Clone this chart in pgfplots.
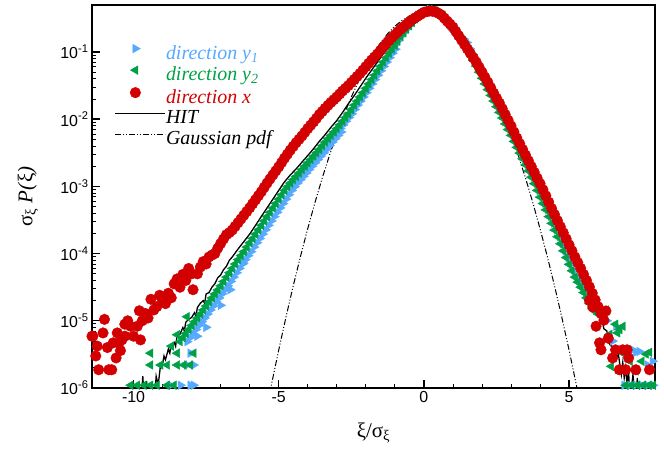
\documentclass[border=0pt]{standalone}
\usepackage{pgfplots}
\pgfplotsset{compat=1.18}
\usepackage{fontspec}
\setmainfont{Liberation Sans}
\newfontfamily\seriffont{Liberation Serif}
\definecolor{cblue}{RGB}{85,170,255}
\definecolor{cgreen}{RGB}{0,160,70}
\definecolor{cred}{RGB}{210,0,0}
\pgfplotsset{
  markleg/.style={legend image code/.code={\draw[##1] plot coordinates {(20bp,6bp)};}},
  lineleg/.style={legend image code/.code={\draw[##1] plot coordinates {(0bp,6bp) (50bp,6bp)};}},
}
\begin{document}
\begin{tikzpicture}
\begin{axis}[
  scale only axis, width=563bp, height=383bp,
  xmin=-11.43, xmax=7.96, ymin=1e-6, ymax=0.5, ymode=log,
  axis line style={line width=1.4bp},
  tick align=inside, tick pos=left,
  xtick={-10,-5,0,5}, xticklabels={-10,-5,0,5},
  minor x tick num=4,
  ytick={1e-6,1e-5,1e-4,1e-3,1e-2,1e-1},
  yticklabels={10\textsuperscript{-6},10\textsuperscript{-5},10\textsuperscript{-4},10\textsuperscript{-3},10\textsuperscript{-2},10\textsuperscript{-1}},
  major tick length=8bp, minor tick length=4.5bp,
  every major tick/.append style={black, line width=1.4bp},
  every minor tick/.append style={black, line width=0.8bp},
  tick label style={font=\fontsize{16}{19}\selectfont},
  xlabel={\seriffont ξ/σ\textsubscript{ξ}},
  ylabel={\seriffont σ\textsubscript{ξ} \textit{P(}ξ\textit{)}},
  every axis y label/.style={at={(axis description cs:-0.1137,0.5)}, rotate=90, anchor=center, font=\fontsize{21}{24}\selectfont},
  every axis x label/.style={at={(axis description cs:0.5,-0.13)}, anchor=base, font=\fontsize{21}{24}\selectfont},
  legend style={draw=none, fill=none, at={(axis description cs:0.04,0.898)}, anchor=north west,
    font=\fontsize{20}{22}\selectfont\seriffont\itshape, row sep=1.7bp, inner sep=0pt,
    nodes={inner sep=0pt, text height=14bp, text depth=5bp},
    /tikz/every even column/.append style={column sep=7bp}},
  legend cell align=left,
  clip=true,
]
% direction y1 (blue)
\addplot[only marks, mark=triangle*, mark size=5bp, color=cblue, mark options={rotate=-90, draw=cblue, fill=cblue}, markleg]
coordinates {
(-8.15,4.9e-6) (-7.95,6.46e-6) (-7.75,8.51e-6) (-7.55,1.10e-5) (-7.35,1.45e-5) (-7.15,1.91e-5) (-6.95,2.51e-5) (-6.75,3.31e-5) (-6.55,4.47e-5) (-6.35,6.03e-5) (-6.15,8.13e-5) (-5.95,1.07e-4) (-5.75,1.45e-4) (-5.55,1.95e-4) (-5.35,2.63e-4) (-5.15,3.55e-4) (-4.95,4.79e-4) (-4.75,6.46e-4) (-4.55,8.71e-4) (-4.35,1.12e-3) (-4.15,1.41e-3) (-3.95,1.78e-3) (-3.75,2.24e-3) (-3.55,2.82e-3) (-3.35,3.55e-3) (-3.15,4.57e-3) (-2.95,5.75e-3) (-2.88,7.24e-3) (-2.68,9.33e-3) (-2.48,1.20e-2) (-2.28,1.62e-2) (-2.08,2.14e-2) (-1.88,2.88e-2) (-1.68,3.89e-2) (-1.48,5.25e-2) (-1.28,7.08e-2) (-1.08,9.55e-2) (-1.0,0.126) (-0.8,0.170) (-0.6,0.219) (-0.4,0.275) (-0.2,0.355) (0.0,0.389) (0.2,0.427) (0.4,0.407) (0.6,0.355) (0.8,0.282) (1.0,0.224) (1.2,0.174) (1.48,0.138) (1.68,9.12e-2) (1.88,6.17e-2) (2.08,4.07e-2) (2.28,2.75e-2) (2.48,1.86e-2) (2.68,1.26e-2) (2.88,8.51e-3) (3.08,5.75e-3) (3.28,3.80e-3) (3.48,2.57e-3) (3.68,1.70e-3) (3.88,1.10e-3) (4.08,6.92e-4) (4.28,4.47e-4) (4.48,2.82e-4) (4.68,1.78e-4) (4.88,1.10e-4) (5.08,6.92e-5) (5.28,4.47e-5) (5.48,3.16e-5) (5.68,2.19e-5) (5.88,1.51e-5) (6.08,1.26e-5)
(-8.05,5.63e-6) (-7.85,7.41e-6) (-7.65,9.68e-6) (-7.45,1.26e-5) (-7.25,1.66e-5) (-7.05,2.19e-5) (-6.85,2.88e-5) (-6.65,3.85e-5) (-6.45,5.19e-5) (-6.25,7.00e-5) (-6.05,9.33e-5) (-5.85,1.25e-4) (-5.65,1.68e-4) (-5.45,2.26e-4) (-5.25,3.06e-4) (-5.05,4.12e-4) (-4.85,5.56e-4) (-4.65,7.50e-4) (-4.45,9.88e-4) (-4.25,1.26e-3) (-4.05,1.58e-3) (-3.85,2.00e-3) (-3.65,2.51e-3) (-3.45,3.16e-3) (-3.25,4.03e-3) (-3.05,5.13e-3) (-2.85,6.45e-3) (-2.78,8.22e-3) (-2.58,1.06e-2) (-2.38,1.39e-2) (-2.18,1.86e-2) (-1.98,2.48e-2) (-1.78,3.35e-2) (-1.58,4.52e-2) (-1.38,6.10e-2) (-1.18,8.22e-2) (-0.98,0.110) (-0.9,0.146) (-0.7,0.193) (-0.5,0.245) (-0.3,0.312) (-0.1,0.372) (0.1,0.408) (0.3,0.417) (0.5,0.380) (0.7,0.316) (0.9,0.251) (1.1,0.197) (1.38,0.155) (1.58,0.112) (1.78,7.50e-2) (1.98,5.01e-2) (2.18,3.35e-2) (2.38,2.26e-2) (2.58,1.53e-2) (2.78,1.04e-2) (2.98,7.00e-3) (3.18,4.67e-3) (3.38,3.13e-3) (3.58,2.09e-3) (3.78,1.37e-3) (3.98,8.72e-4) (4.18,5.56e-4) (4.38,3.55e-4) (4.58,2.24e-4) (4.78,1.40e-4) (4.98,8.72e-5) (5.18,5.56e-5) (5.38,3.76e-5) (5.58,2.63e-5) (5.78,1.82e-5) (5.98,1.38e-5)
(-7.81,5.9e-6) (-8.04,3.3e-6) (-8.16,2.2e-6) (-7.93,2.2e-6) (-8.73,1.1e-6) (-8.38,1.1e-6) (-8.04,1.1e-6) (-7.93,1.1e-6) (-7.5,8e-6) (-7.0,1.7e-5) (-6.67,2.9e-5) (-6.22,7.2e-5)
(6.3,1.0e-5) (6.62,8.3e-6) (7.19,3.7e-6) (7.3,3.4e-6) (7.42,3.5e-6) (7.7,2.2e-6) (7.88,2.5e-6) (6.9,1.1e-6) (7.1,1.1e-6) (7.3,1.1e-6) (7.5,1.1e-6) (7.7,1.1e-6) (7.9,1.1e-6) (6.5,5e-6)
};
\addlegendentry{\textcolor{cblue}{direction y\textsubscript{1}}}
% direction y2 (green)
\addplot[only marks, mark=triangle*, mark size=5bp, color=cgreen, mark options={rotate=90, draw=cgreen, fill=cgreen}, markleg]
coordinates {
(-8.4,4.9e-6) (-8.2,6.46e-6) (-8.0,8.51e-6) (-7.8,1.10e-5) (-7.6,1.45e-5) (-7.4,1.91e-5) (-7.2,2.51e-5) (-7.0,3.31e-5) (-6.8,4.47e-5) (-6.6,6.03e-5) (-6.4,8.13e-5) (-6.2,1.07e-4) (-6.0,1.45e-4) (-5.8,1.95e-4) (-5.6,2.63e-4) (-5.4,3.55e-4) (-5.2,4.79e-4) (-5.0,6.46e-4) (-4.8,8.71e-4) (-4.6,1.12e-3) (-4.4,1.41e-3) (-4.2,1.78e-3) (-4.0,2.24e-3) (-3.8,2.82e-3) (-3.6,3.55e-3) (-3.4,4.57e-3) (-3.2,5.75e-3) (-3.0,7.24e-3) (-2.8,9.33e-3) (-2.6,1.20e-2) (-2.4,1.62e-2) (-2.2,2.14e-2) (-2.0,2.88e-2) (-1.8,3.89e-2) (-1.6,5.25e-2) (-1.4,7.08e-2) (-1.2,9.55e-2) (-1.0,0.126) (-0.8,0.170) (-0.6,0.219) (-0.4,0.275) (-0.2,0.355) (0.0,0.389) (0.2,0.427) (0.4,0.407) (0.6,0.355) (0.8,0.282) (1.0,0.224) (1.2,0.174) (1.4,0.138) (1.6,9.12e-2) (1.8,6.17e-2) (2.0,4.07e-2) (2.2,2.75e-2) (2.4,1.86e-2) (2.6,1.26e-2) (2.8,8.51e-3) (3.0,5.75e-3) (3.2,3.80e-3) (3.4,2.57e-3) (3.6,1.70e-3) (3.8,1.10e-3) (4.0,6.92e-4) (4.2,4.47e-4) (4.4,2.82e-4) (4.6,1.78e-4) (4.8,1.10e-4) (5.0,6.92e-5) (5.2,4.47e-5) (5.4,3.16e-5) (5.6,2.19e-5) (5.8,1.51e-5) (6.0,1.26e-5)
(-8.3,5.63e-6) (-8.1,7.41e-6) (-7.9,9.68e-6) (-7.7,1.26e-5) (-7.5,1.66e-5) (-7.3,2.19e-5) (-7.1,2.88e-5) (-6.9,3.85e-5) (-6.7,5.19e-5) (-6.5,7.00e-5) (-6.3,9.33e-5) (-6.1,1.25e-4) (-5.9,1.68e-4) (-5.7,2.26e-4) (-5.5,3.06e-4) (-5.3,4.12e-4) (-5.1,5.56e-4) (-4.9,7.50e-4) (-4.7,9.88e-4) (-4.5,1.26e-3) (-4.3,1.58e-3) (-4.1,2.00e-3) (-3.9,2.51e-3) (-3.7,3.16e-3) (-3.5,4.03e-3) (-3.3,5.13e-3) (-3.1,6.45e-3) (-2.9,8.22e-3) (-2.7,1.06e-2) (-2.5,1.39e-2) (-2.3,1.86e-2) (-2.1,2.48e-2) (-1.9,3.35e-2) (-1.7,4.52e-2) (-1.5,6.10e-2) (-1.3,8.22e-2) (-1.1,0.110) (-0.9,0.146) (-0.7,0.193) (-0.5,0.245) (-0.3,0.312) (-0.1,0.372) (0.1,0.408) (0.3,0.417) (0.5,0.380) (0.7,0.316) (0.9,0.251) (1.1,0.197) (1.3,0.155) (1.5,0.112) (1.7,7.50e-2) (1.9,5.01e-2) (2.1,3.35e-2) (2.3,2.26e-2) (2.5,1.53e-2) (2.7,1.04e-2) (2.9,7.00e-3) (3.1,4.67e-3) (3.3,3.13e-3) (3.5,2.09e-3) (3.7,1.37e-3) (3.9,8.72e-4) (4.1,5.56e-4) (4.3,3.55e-4) (4.5,2.24e-4) (4.7,1.40e-4) (4.9,8.72e-5) (5.1,5.56e-5) (5.3,3.76e-5) (5.5,2.63e-5) (5.7,1.82e-5) (5.9,1.38e-5)
(-8.16,1.15e-5) (-8.5,6.2e-6) (-8.7,4.2e-6) (-9.42,3.3e-6) (-8.5,3.3e-6) (-7.93,3.3e-6) (-9.42,2.2e-6) (-9.07,2.2e-6) (-8.84,2.2e-6) (-8.5,2.2e-6) (-8.27,2.2e-6) (-8.04,2.2e-6) (-10.1,1.1e-6) (-9.87,1.1e-6) (-9.64,1.1e-6) (-9.42,1.1e-6) (-9.19,1.1e-6) (-8.84,1.1e-6) (-8.61,1.1e-6)
(6.2,1.12e-5) (6.28,1.45e-5) (6.4,6.3e-6) (6.45,2.1e-6) (6.6,8.9e-6) (6.67,6.6e-6) (6.74,7.4e-6) (6.85,8.3e-6) (6.9,3.2e-6) (7.1,2.5e-6) (7.3,1.8e-6) (7.5,2.5e-6) (7.65,3.2e-6) (7.77,3.4e-6) (6.95,1.1e-6) (7.15,1.1e-6) (7.35,1.1e-6) (7.55,1.1e-6) (7.75,1.1e-6) (7.9,1.1e-6)
};
\addlegendentry{\textcolor{cgreen}{direction y\textsubscript{2}}}
% direction x (red)
\addplot[only marks, mark=*, mark size=5.3bp, color=cred, mark options={draw=cred, fill=cred}, markleg]
coordinates {
(-11.43,5.9e-6) (-11.4,5.9e-6) (-11.3,3.0e-6) (-11.25,4.2e-6) (-11.2,1.87e-6) (-11.05,6.6e-6) (-11.0,1.05e-5) (-10.9,4.0e-6) (-10.85,1.87e-6) (-10.75,1.87e-6) (-10.7,4.7e-6) (-10.6,2.8e-6) (-10.56,6.6e-6) (-10.5,4.7e-6) (-10.45,3.6e-6) (-10.4,5.2e-6) (-10.3,8.9e-6) (-10.3,5.9e-6) (-10.2,1.0e-5) (-10.1,8.3e-6) (-10.0,5.9e-6) (-9.87,8.3e-6) (-9.8,1.41e-5) (-9.76,5.2e-6) (-9.7,1.0e-5) (-9.6,1.29e-5) (-9.5,1.1e-5) (-9.4,2.09e-5) (-9.3,1.45e-5) (-9.2,1.62e-5) (-9.1,2.4e-5) (-9.0,2.0e-5) (-8.9,1.8e-5) (-8.8,2.57e-5) (-8.7,2.2e-5) (-8.6,3.55e-5) (-8.5,4.2e-5) (-8.4,3.16e-5) (-8.3,4.9e-5) (-8.2,3.98e-5) (-8.1,6.0e-5) (-8.0,5.0e-5) (-7.95,2.9e-5) (-7.8,5.0e-5) (-7.7,6.3e-5) (-7.6,7.6e-5) (-7.5,7.0e-5) (-7.4,8.9e-5) (-7.3,9.5e-5) (-7.2,1.0e-4) (-7.1,1.2e-4) (-7.0,1.41e-4) (-6.9,1.65e-4) (-6.8,1.91e-4) (-6.7,2.05e-4)
(-6.6,2.24e-4) (-6.4,2.88e-4) (-6.2,3.72e-4) (-6.0,4.79e-4) (-5.8,6.31e-4) (-5.6,8.32e-4) (-5.4,1.12e-3) (-5.2,1.48e-3) (-5.0,1.95e-3) (-4.8,2.63e-3) (-4.6,3.47e-3) (-4.4,4.47e-3) (-4.2,5.62e-3) (-4.0,7.24e-3) (-3.8,9.12e-3) (-3.6,1.17e-2) (-3.4,1.45e-2) (-3.2,1.78e-2) (-3.0,2.14e-2) (-2.8,2.63e-2) (-2.6,3.16e-2) (-2.4,3.89e-2) (-2.2,4.79e-2) (-2.0,6.03e-2) (-1.8,7.59e-2) (-1.6,9.33e-2) (-1.4,0.1175) (-1.2,0.148) (-1.0,0.180) (-0.8,0.219) (-0.6,0.257) (-0.4,0.302) (-0.2,0.343) (0.0,0.389) (0.2,0.407) (0.4,0.398) (0.6,0.355) (0.8,0.288) (1.0,0.234) (1.2,0.174) (1.4,0.129) (1.6,9.55e-2) (1.8,7.08e-2) (2.0,5.01e-2) (2.2,3.55e-2) (2.4,2.45e-2) (2.6,1.74e-2) (2.8,1.175e-2) (3.0,7.94e-3) (3.2,5.25e-3) (3.4,3.55e-3) (3.6,2.40e-3) (3.8,1.62e-3) (4.0,1.10e-3) (4.2,7.24e-4) (4.4,4.68e-4) (4.6,3.09e-4) (4.8,2.04e-4) (5.0,1.35e-4) (5.2,8.91e-5) (5.4,6.03e-5) (5.6,3.98e-5) (5.8,2.57e-5) (6.0,1.62e-5) (6.2,1.02e-5)
(-6.5,2.54e-4) (-6.3,3.27e-4) (-6.1,4.22e-4) (-5.9,5.50e-4) (-5.7,7.25e-4) (-5.5,9.65e-4) (-5.3,1.29e-3) (-5.1,1.70e-3) (-4.9,2.26e-3) (-4.7,3.02e-3) (-4.5,3.94e-3) (-4.3,5.01e-3) (-4.1,6.38e-3) (-3.9,8.13e-3) (-3.7,1.03e-2) (-3.5,1.30e-2) (-3.3,1.61e-2) (-3.1,1.95e-2) (-2.9,2.37e-2) (-2.7,2.88e-2) (-2.5,3.51e-2) (-2.3,4.32e-2) (-2.1,5.37e-2) (-1.9,6.77e-2) (-1.7,8.42e-2) (-1.5,0.1047) (-1.3,0.132) (-1.1,0.163) (-0.9,0.199) (-0.7,0.237) (-0.5,0.279) (-0.3,0.322) (-0.1,0.365) (0.1,0.398) (0.3,0.403) (0.5,0.376) (0.7,0.320) (0.9,0.260) (1.1,0.202) (1.3,0.150) (1.5,0.111) (1.7,8.22e-2) (1.9,5.96e-2) (2.1,4.22e-2) (2.3,2.95e-2) (2.5,2.06e-2) (2.7,1.43e-2) (2.9,9.66e-3) (3.1,6.46e-3) (3.3,4.32e-3) (3.5,2.92e-3) (3.7,1.97e-3) (3.9,1.33e-3) (4.1,8.92e-4) (4.3,5.82e-4) (4.5,3.80e-4) (4.7,2.51e-4) (4.9,1.66e-4) (5.1,1.10e-4) (5.3,7.33e-5) (5.5,4.90e-5) (5.7,3.20e-5) (5.9,2.04e-5) (6.1,1.29e-5)
(5.7,2.0e-5) (5.82,1.6e-5) (5.93,8.3e-6) (6.05,4.7e-6) (6.1,3.7e-6) (6.27,1.4e-5) (6.35,5.5e-6) (6.5,2.8e-6) (6.6,3.7e-6) (6.73,1.87e-6) (6.85,3.7e-6) (6.95,1.87e-6) (7.0,3.7e-6) (7.05,2.8e-6) (7.3,1.87e-6) (7.77,1.87e-6)
};
\addlegendentry{\textcolor{cred}{direction x}}
% HIT
\addplot[black, line width=1.3bp, mark=none, lineleg]
coordinates {
(-9.75,5e-7) (-9.68,1.5e-6) (-9.62,5e-7) (-9.55,1.26e-6) (-9.5,5e-7) (-9.3,5e-7) (-9.22,1.5e-6) (-9.15,1.12e-6) (-9.08,2.0e-6) (-9.0,2.24e-6) (-8.95,3.0e-6) (-8.9,2.63e-6) (-8.8,3.8e-6) (-8.75,3.3e-6) (-8.7,4.47e-6) (-8.6,4.79e-6) (-8.55,4.17e-6) (-8.5,6.03e-6) (-8.4,6.31e-6) (-8.3,7.94e-6) (-8.25,7.08e-6) (-8.2,9.55e-6) (-8.1,1.05e-5) (-8.0,1.12e-5) (-7.9,1.32e-5) (-7.85,1.17e-5) (-7.8,1.58e-5) (-7.7,1.82e-5) (-7.6,2.0e-5) (-7.55,1.82e-5) (-7.5,2.51e-5) (-7.4,2.63e-5) (-7.3,3.16e-5) (-7.2,3.55e-5) (-7.1,4.37e-5) (-7.0,4.79e-5) (-6.9,5.75e-5) (-6.8,6.46e-5) (-6.7,7.94e-5) (-6.6,8.91e-5) (-6.4,1.17e-4) (-6.2,1.51e-4) (-6.0,1.95e-4) (-5.8,2.63e-4) (-5.6,3.55e-4) (-5.4,4.79e-4) (-5.2,6.46e-4) (-5.0,8.71e-4) (-4.8,1.17e-3) (-4.6,1.48e-3) (-4.4,1.82e-3) (-4.2,2.29e-3) (-4.0,2.88e-3) (-3.8,3.63e-3) (-3.6,4.68e-3) (-3.4,5.89e-3) (-3.2,7.59e-3) (-3.0,9.55e-3) (-2.8,1.26e-2) (-2.6,1.70e-2) (-2.4,2.24e-2) (-2.2,3.02e-2) (-2.0,4.07e-2) (-1.8,5.37e-2) (-1.6,7.08e-2) (-1.4,9.33e-2) (-1.2,0.123) (-1.0,0.158) (-0.8,0.195) (-0.6,0.234) (-0.4,0.288) (-0.2,0.347) (0.0,0.389) (0.2,0.417) (0.4,0.417) (0.6,0.372) (0.8,0.309) (1.0,0.251) (1.2,0.186) (1.4,0.138) (1.6,0.102) (1.8,7.59e-2) (2.0,5.50e-2) (2.2,3.89e-2) (2.4,2.69e-2) (2.6,1.91e-2) (2.8,1.29e-2) (3.0,8.51e-3) (3.2,5.75e-3) (3.4,3.80e-3) (3.6,2.57e-3) (3.8,1.74e-3) (4.0,1.17e-3) (4.2,7.76e-4) (4.4,5.01e-4) (4.6,3.24e-4) (4.8,2.09e-4) (5.0,1.35e-4) (5.2,8.71e-5) (5.4,5.50e-5) (5.5,4.68e-5) (5.6,3.39e-5) (5.7,3.02e-5) (5.8,2.14e-5) (5.9,1.91e-5) (6.0,1.32e-5) (6.1,1.20e-5) (6.2,7.59e-6) (6.3,7.08e-6) (6.4,4.47e-6) (6.5,3.98e-6) (6.6,2.63e-6) (6.7,3.16e-6) (6.8,1.58e-6) (6.85,2.4e-6) (6.9,1.41e-6) (6.95,2.0e-6) (7.0,1.12e-6) (7.05,1.78e-6) (7.1,6.3e-7) (7.2,1.58e-6) (7.3,6e-7) (7.35,1.41e-6) (7.4,5e-7)
};
\addlegendentry{HIT}
% Gaussian pdf
\addplot[black, line width=1bp, mark=none, dash pattern=on 6bp off 2bp on 1bp off 2bp on 1bp off 2bp, lineleg]
coordinates {
(-5.5,3.24e-7) (-5.25,1.12e-6) (-5.0,3.67e-6) (-4.75,1.13e-5) (-4.5,3.30e-5) (-4.25,9.08e-5) (-4.0,2.35e-4) (-3.75,5.77e-4) (-3.5,1.333e-3) (-3.25,2.90e-3) (-3.0,5.98e-3) (-2.75,1.164e-2) (-2.5,2.13e-2) (-2.25,3.69e-2) (-2.0,6.04e-2) (-1.75,9.31e-2) (-1.5,0.1356) (-1.25,0.1862) (-1.0,0.2416) (-0.75,0.296) (-0.5,0.342) (-0.25,0.3724) (0.0,0.3836) (0.25,0.3724) (0.5,0.342) (0.75,0.296) (1.0,0.2416) (1.25,0.1862) (1.5,0.1356) (1.75,9.31e-2) (2.0,6.04e-2) (2.25,3.69e-2) (2.5,2.13e-2) (2.75,1.164e-2) (3.0,5.98e-3) (3.25,2.90e-3) (3.5,1.333e-3) (3.75,5.77e-4) (4.0,2.35e-4) (4.25,9.08e-5) (4.5,3.30e-5) (4.75,1.13e-5) (5.0,3.67e-6) (5.25,1.12e-6) (5.5,3.24e-7)
};
\addlegendentry{Gaussian pdf}
\coordinate (bl) at (rel axis cs:0,0);
\coordinate (tr) at (rel axis cs:1,1);
\end{axis}
\pgfresetboundingbox
\path[use as bounding box] ([xshift=-92bp,yshift=-64bp]bl) rectangle ([xshift=9bp,yshift=5bp]tr);
\end{tikzpicture}
\end{document}
